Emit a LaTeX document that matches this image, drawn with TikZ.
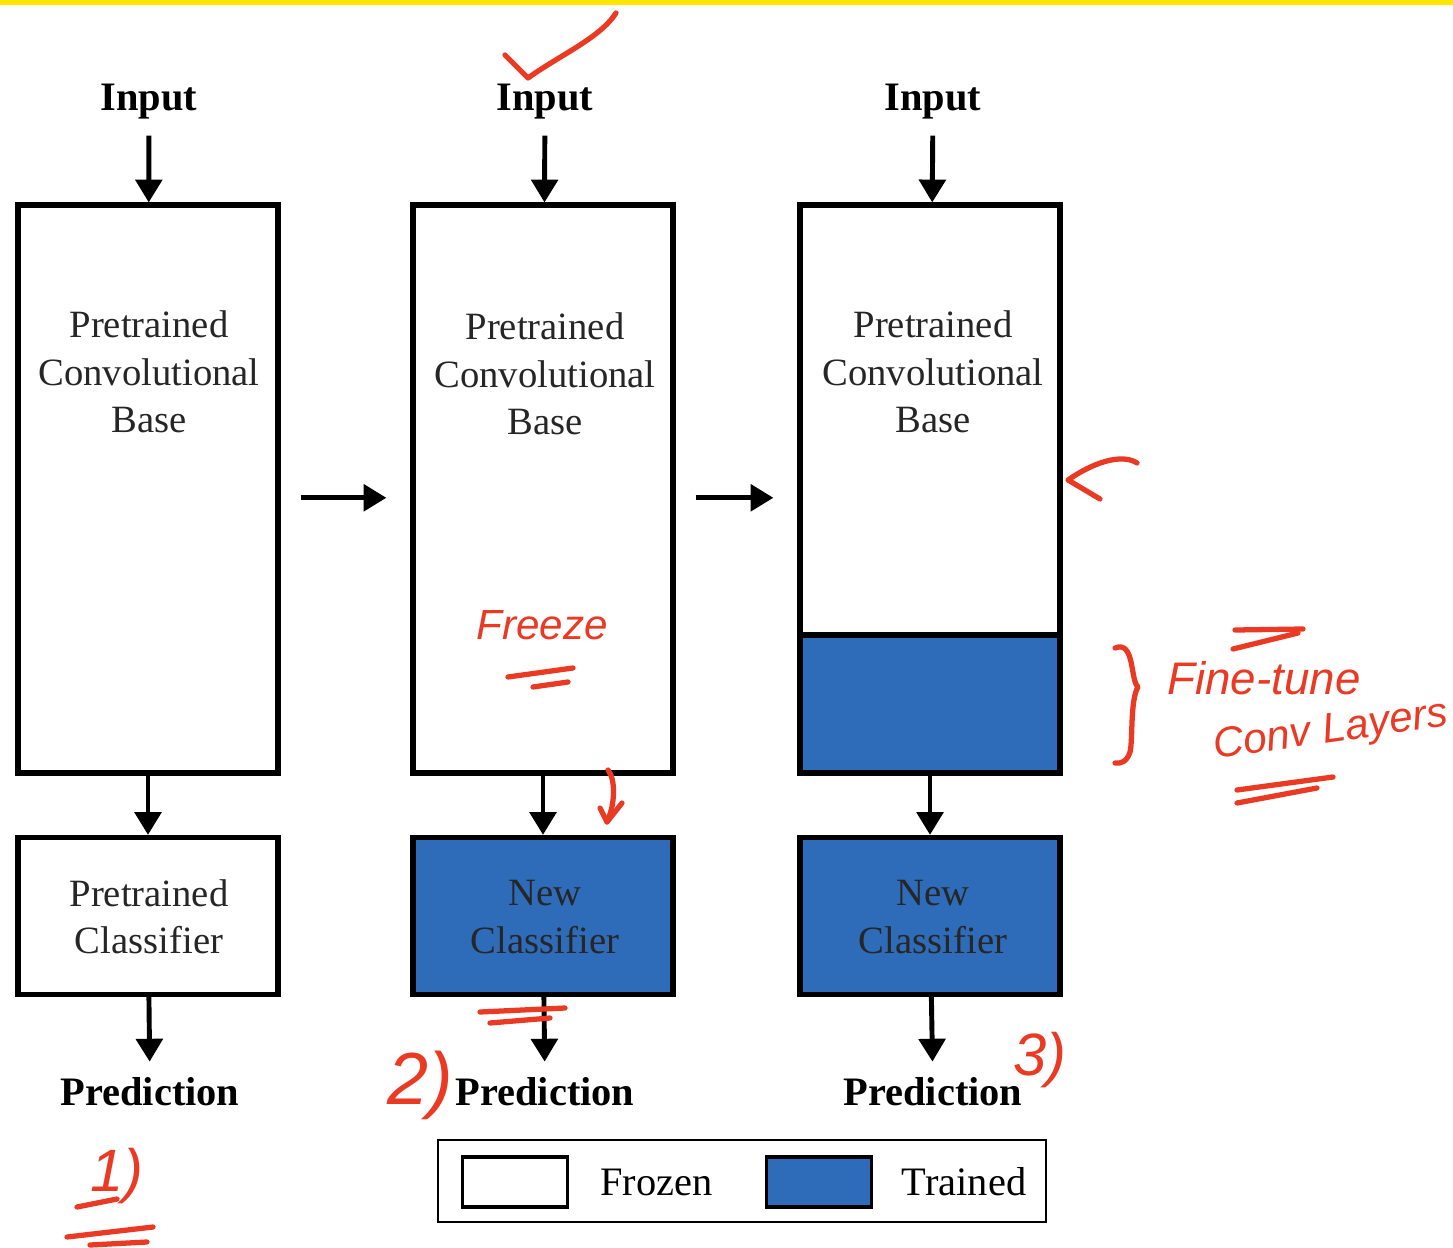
\documentclass[tikz,border=0pt]{standalone}
\usepackage{fontspec}
\setmainfont{Liberation Serif}
\newfontfamily\inkfont{Liberation Sans}
\usetikzlibrary{arrows.meta,positioning}
\definecolor{trainblue}{RGB}{46,108,185}
\definecolor{inkred}{RGB}{234,58,36}
\definecolor{markyellow}{RGB}{255,230,0}
\tikzset{
  % box styles (frozen = white, trained = blue)
  frozen/.style={draw,line width=3pt,fill=white,inner sep=0pt,minimum width=5.2cm},
  trained/.style={frozen,fill=trainblue},
  boxtext/.style={align=center,font=\fontsize{22}{27}\selectfont,text=black!85},
  heading/.style={font=\fontsize{23}{27}\selectfont\bfseries,inner sep=5pt},
  flow/.style={line width=2.8pt,-{Triangle[width=15pt,length=13pt]}},
  % legend swatches
  swatch/.style={draw,line width=2pt,minimum width=2.1cm,minimum height=1cm,inner sep=0pt},
  % red pen notes on top of the figure
  ink/.style={draw=inkred,line width=3pt,line cap=round,line join=round},
  inktext/.style={text=inkred,inner sep=0pt,font=\inkfont\itshape\fontsize{24}{28}\selectfont},
}
\begin{document}
\begin{tikzpicture}[x=0.02cm,y=-0.02cm]
  \useasboundingbox (0,0) rectangle (1453,1247);
  \fill[markyellow] (0,0) rectangle (1453,5);
  % column 1: pretrained model
  \node[heading] (in1) at (149,102) {Input};
  \node[frozen,minimum height=11.36cm] (base1) at (148,489) {};
  \node[boxtext] (basetxt1) at (149,372) {Pretrained\\Convolutional\\Base};
  \node[frozen,minimum height=3.14cm] (cls1) at (148,916) {};
  \node[boxtext] (clstxt1) at (149,917) {Pretrained\\Classifier};
  \node[heading] (pred1) at (150,1092) {Prediction};
  % column 2: new classifier
  \node[heading] (in2) at (545,102) {Input};
  \node[frozen,minimum height=11.36cm] (base2) at (543,489) {};
  \node[boxtext] (basetxt2) at (545,374) {Pretrained\\Convolutional\\Base};
  \node[trained,minimum height=3.14cm] (cls2) at (543,916) {};
  \node[boxtext] (clstxt2) at (545,917) {New\\Classifier};
  \node[heading] (pred2) at (545,1092) {Prediction};
  % column 3: fine-tuning
  \node[heading] (in3) at (933,102) {Input};
  \node[frozen,minimum height=11.36cm] (base3) at (930,489) {};
  \node[trained,minimum height=2.76cm] (tune3) at (930,704) {};
  \node[boxtext] (basetxt3) at (933,372) {Pretrained\\Convolutional\\Base};
  \node[trained,minimum height=3.14cm] (cls3) at (930,916) {};
  \node[boxtext] (clstxt3) at (933,917) {New\\Classifier};
  \node[heading] (pred3) at (933,1092) {Prediction};
  % arrows
  \foreach \c in {1,2,3} {
    \draw[flow,shorten <=4pt] (in\c) -- (base\c);
    \draw[flow] (base\c) -- (cls\c);
    \draw[flow,shorten >=4pt] (cls\c) -- (pred\c);
  }
  \draw[flow,shorten <=0.4cm,shorten >=0.48cm] ([yshift=-5pt]base1.east) -- ([yshift=-5pt]base2.west);
  \draw[flow,shorten <=0.4cm,shorten >=0.48cm] ([yshift=-5pt]base2.east) -- ([yshift=-5pt]base3.west);
  % legend
  \node[draw,line width=1.5pt,minimum width=12.16cm,minimum height=1.64cm] (legend) at (742,1181) {};
  \node[swatch,fill=white] (frz) at (515,1182) {};
  \node[font=\fontsize{23}{27}\selectfont,right=0.5cm of frz] (frztxt) {Frozen};
  \node[swatch,fill=trainblue] (trn) at (819,1182) {};
  \node[font=\fontsize{23}{27}\selectfont,right=0.45cm of trn] (trntxt) {Trained};
  % red pen notes
  \draw[ink] (505,55) -- (528,78) .. controls (560,55) and (600,38) .. (616,13);
  \node[inktext] (freeze) at (542,625) {Freeze};
  \draw[ink] (508,677) -- (573,668);
  \draw[ink] (533,687) -- (568,682);
  \draw[ink] (608,770) .. controls (616,780) and (615,805) .. (607,822);
  \draw[ink] (600,808) -- (607,822) -- (622,803);
  \draw[ink] (480,1012) -- (565,1008);
  \draw[ink] (490,1023) -- (550,1018);
  \node[inktext,font=\inkfont\itshape\fontsize{34}{38}\selectfont] (step1) at (117,1176) {1)};
  \draw[ink] (77,1207) -- (117,1199);
  \draw[ink] (67,1237) -- (153,1227);
  \draw[ink] (90,1245) -- (147,1242);
  \node[inktext,font=\inkfont\itshape\fontsize{42}{46}\selectfont] (step2) at (420,1085) {2)};
  \node[inktext,font=\inkfont\itshape\fontsize{34}{38}\selectfont] (step3) at (1040,1060) {3)};
  \draw[ink] (1137,463) .. controls (1125,455) and (1100,458) .. (1068,480) -- (1100,499);
  \draw[ink] (1115,648) .. controls (1135,640) and (1130,680) .. (1138,687)
    .. controls (1130,700) and (1133,740) .. (1130,752)
    .. controls (1127,762) and (1120,764) .. (1115,763);
  \node[inktext,font=\inkfont\itshape\fontsize{26}{30}\selectfont] (tune) at (1264,678) {Fine-tune};
  \draw[ink] (1235,630) -- (1303,629);
  \draw[ink] (1233,649) -- (1298,633);
  \node[inktext,rotate=8] (convlayers) at (1331,732) {Conv Layers};
  \draw[ink] (1237,790) -- (1333,777);
  \draw[ink] (1237,803) -- (1317,788);
\end{tikzpicture}
\end{document}
